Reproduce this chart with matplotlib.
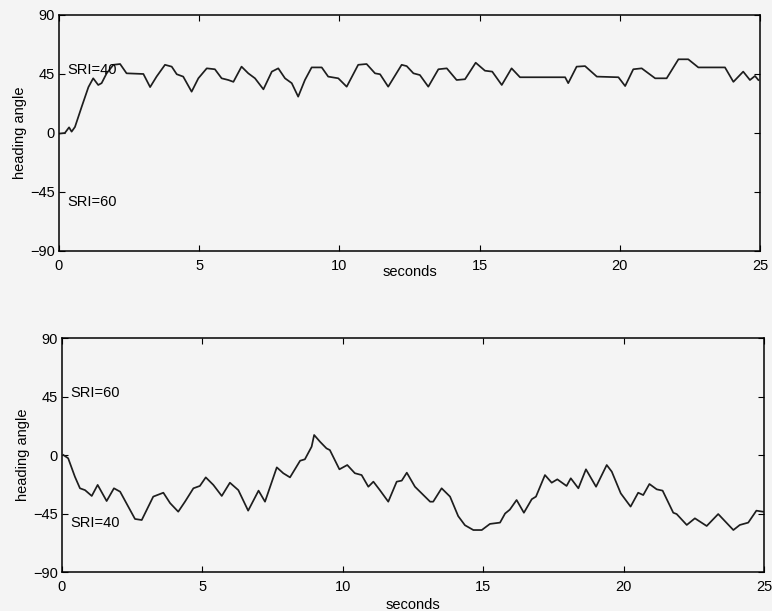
import matplotlib.pyplot as plt

plt.rcParams["font.family"] = ["Liberation Sans", "DejaVu Sans"]

# top run: heading settles around 45 (SRI=40 goal)
t_top = [0, 0.21, 0.36, 0.45, 0.57, 0.81, 1.05, 1.22, 1.40, 1.52, 1.70, 1.94,
         2.18, 2.41, 3.01, 3.25, 3.48, 3.78, 4.02, 4.20, 4.43, 4.73, 4.97, 5.27,
         5.56, 5.80, 6.04, 6.22, 6.51, 6.75, 6.99, 7.29, 7.59, 7.82, 8.06, 8.30,
         8.53, 8.77, 9.01, 9.37, 9.60, 9.96, 10.26, 10.67, 10.97, 11.27, 11.45,
         11.74, 12.22, 12.40, 12.64, 12.87, 13.17, 13.53, 13.83, 14.18, 14.48,
         14.86, 15.19, 15.45, 15.79, 16.14, 16.44, 18.05, 18.16, 18.46, 18.76,
         19.18, 19.95, 20.19, 20.48, 20.78, 21.26, 21.67, 22.09, 22.44, 22.80,
         23.75, 24.05, 24.40, 24.64, 24.82, 24.94]
h_top = [-0.5, 0, 4.3, 1, 4.6, 20, 35, 41.7, 36.6, 38, 45.5, 52,
         52.6, 45.5, 45, 35, 43, 52, 50.6, 44.8, 43, 31.5, 41.7, 49.3,
         48.6, 41.7, 40.4, 39, 50.6, 45.5, 41.7, 33.3, 46.8, 49.3, 41.7, 38,
         27.7, 40.4, 50, 50, 43, 41.7, 35.3, 52, 52.6, 45.5, 44.8,
         35.3, 52, 51, 45.5, 44.2, 35.3, 48.6, 49.3, 40.4, 41,
         53.6, 47.5, 46.8, 36.6, 49.3, 42.5, 42.5, 38, 50.6, 51,
         43, 42.5, 35.8, 48.6, 49.3, 41.7, 41.7, 56.2, 56.2, 50,
         50, 39, 46.8, 40.4, 43.5, 40.4]

# bottom run: wanders around -30 (SRI=40 goal now at -45)
t_bot = [0.05, 0.22, 0.46, 0.64, 0.82, 1.06, 1.27, 1.59, 1.85, 2.07, 2.36,
         2.60, 2.84, 3.25, 3.61, 3.85, 4.14, 4.38, 4.68, 4.91, 5.12, 5.39,
         5.69, 5.98, 6.28, 6.63, 7.00, 7.23, 7.65, 7.88, 8.12, 8.48, 8.65,
         8.89, 8.98, 9.19, 9.42, 9.54, 9.88, 10.16, 10.43, 10.67, 10.91, 11.09,
         11.32, 11.62, 11.92, 12.10, 12.28, 12.57, 12.81, 13.11, 13.22, 13.52,
         13.82, 14.11, 14.35, 14.65, 14.95, 15.24, 15.60, 15.78, 15.95, 16.19,
         16.45, 16.73, 16.88, 17.20, 17.44, 17.64, 17.97, 18.12, 18.39, 18.66,
         19.02, 19.40, 19.58, 19.90, 20.25, 20.52, 20.70, 20.92, 21.18, 21.39,
         21.77, 21.89, 22.25, 22.54, 22.96, 23.37, 23.91, 24.14, 24.44, 24.73,
         24.96]
h_bot = [0, -2.5, -16.7, -25.6, -27, -31.5, -23, -35.4, -25.6, -28.2, -39.7,
         -49.2, -50, -32, -29, -37, -43.6, -35.9, -25.6, -23.8, -17.2, -23,
         -31.5, -21.3, -27, -42.8, -27.4, -35.9, -9.5, -14, -17.2, -4.4, -3.3,
         6.4, 15.4, 10.2, 5.1, 3.8, -11, -7.7, -14, -15.4, -24.4, -20.5,
         -27, -35.9, -20.5, -19.7, -13.6, -24.4, -29.5, -35.9, -35.9, -25.6,
         -32, -47, -54, -57.7, -57.7, -53, -52, -45, -42, -34.6,
         -44.4, -34, -32, -15.4, -21.3, -18.7, -23.8, -17.9, -25.6, -11,
         -24.4, -7.7, -12.8, -29.5, -39.7, -29, -30.8, -22.3, -26.4, -27.4,
         -44.4, -45.4, -53.8, -48.7, -54.6, -45.4, -57.7, -53.8, -52, -42.8,
         -43.6]

x_ticks = [0, 5, 10, 15, 20, 25]
y_ticks = [-90, -45, 0, 45, 90]

BG = "#f4f4f4"


def style_axes(ax, xlabel_pad):
    ax.set_facecolor(BG)
    ax.set_xlim(0, 25)
    ax.set_ylim(-90, 90)
    ax.set_xticks(x_ticks)
    ax.set_yticks(y_ticks)
    ax.tick_params(direction="in", length=4, width=0.8, top=True, right=True,
                   labelsize=10.5)
    ax.tick_params(axis="x", pad=6)
    ax.tick_params(axis="y", pad=3)
    for s in ax.spines.values():
        s.set_linewidth(1.1)
    ax.set_xlabel("seconds", fontsize=10.5, labelpad=xlabel_pad)
    ax.set_ylabel("heading angle", fontsize=10.5, labelpad=2)


fig = plt.figure(figsize=(7.72, 6.11), dpi=100, facecolor=BG)

ax1 = fig.add_axes([0.0764, 0.5892, 0.9081, 0.3863])
ax1.plot(t_top, h_top, color="#1e1e1e", lw=1.25)
style_axes(ax1, -6)
ax1.text(0.3, 45, "SRI=40", fontsize=10.5, va="baseline", ha="left")
ax1.text(0.3, -47, "SRI=60", fontsize=10.5, va="top", ha="left")

ax2 = fig.add_axes([0.0803, 0.0638, 0.9093, 0.3830])
ax2.plot(t_bot, h_bot, color="#1e1e1e", lw=1.25)
style_axes(ax2, 2.5)
ax2.text(0.3, 45, "SRI=60", fontsize=10.5, va="baseline", ha="left")
ax2.text(0.3, -47, "SRI=40", fontsize=10.5, va="top", ha="left")

fig.savefig("out.png", dpi=100, facecolor=BG)
